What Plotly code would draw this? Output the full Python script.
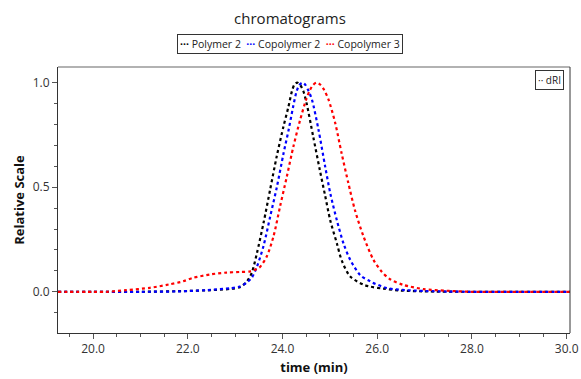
import plotly.graph_objects as go

# ---- data ----
t_polymer2 = [19.26, 20.0, 21.0, 22.0, 22.5, 22.9, 23.1, 23.25, 23.35, 23.46, 23.60, 23.74, 23.88,
              24.02, 24.12, 24.20, 24.25, 24.31, 24.37, 24.44, 24.51, 24.65, 24.79, 24.90, 25.01,
              25.15, 25.25, 25.43, 25.71, 25.85, 26.13, 26.5, 27.0, 28.0, 29.0, 30.07]
v_polymer2 = [0, 0, 0, 0.004, 0.008, 0.014, 0.022, 0.05, 0.09, 0.185, 0.33, 0.49, 0.65,
              0.79, 0.88, 0.96, 0.99, 1.0, 0.99, 0.96, 0.90, 0.74, 0.58, 0.46, 0.34,
              0.23, 0.15, 0.073, 0.034, 0.025, 0.015, 0.006, 0.002, 0, 0, 0]

t_copolymer2 = [19.26, 20.0, 21.0, 21.8, 22.4, 22.9, 23.1, 23.25, 23.35, 23.46, 23.60, 23.74, 23.88,
                24.02, 24.13, 24.22, 24.30, 24.36, 24.42, 24.48, 24.55, 24.62, 24.76, 24.90, 25.01,
                25.15, 25.29, 25.43, 25.64, 25.85, 26.2, 26.6, 27.0, 27.5, 28.0, 29.0, 30.07]
v_copolymer2 = [0, 0, 0, 0.002, 0.008, 0.017, 0.025, 0.045, 0.067, 0.12, 0.22, 0.36, 0.50,
                0.66, 0.775, 0.88, 0.96, 0.99, 1.0, 0.99, 0.96, 0.92, 0.775, 0.60, 0.47,
                0.34, 0.23, 0.153, 0.08, 0.05, 0.018, 0.008, 0.004, 0.001, 0, 0, 0]

t_copolymer3 = [19.26, 20.0, 20.3, 20.7, 21.2, 21.6, 21.9, 22.1, 22.47, 22.82, 23.1, 23.32, 23.46,
                23.53, 23.67, 23.81, 23.95, 24.09, 24.23, 24.37, 24.50, 24.58, 24.65, 24.72, 24.80,
                24.88, 24.97, 25.11, 25.25, 25.39, 25.53, 25.71, 25.92, 26.1, 26.27, 26.55, 26.98,
                27.47, 28.0, 29.0, 30.07]
v_copolymer3 = [0, 0, 0, 0.008, 0.019, 0.035, 0.05, 0.066, 0.083, 0.092, 0.095, 0.098, 0.11,
                0.12, 0.17, 0.265, 0.41, 0.55, 0.695, 0.82, 0.92, 0.965, 0.99, 1.0, 0.99,
                0.965, 0.92, 0.81, 0.66, 0.52, 0.39, 0.265, 0.153, 0.095, 0.06, 0.033, 0.013,
                0.005, 0, 0, 0]

series_names = ["Polymer 2", "Copolymer 2", "Copolymer 3"]
series_colors = ["#000000", "#0000ff", "#ff0000"]
x_tick_vals = [20, 22, 24, 26, 28, 30]
x_tick_text = ["20.0", "22.0", "24.0", "26.0", "28.0", "30.0"]
y_tick_vals = [0.0, 0.5, 1.0]
y_tick_text = ["0.0", "0.5", "1.0"]

FONT = "Open Sans"
W, H = 581, 379

fig = go.Figure()
for name, color, tx, vy in zip(series_names, series_colors,
                               [t_polymer2, t_copolymer2, t_copolymer3],
                               [v_polymer2, v_copolymer2, v_copolymer3]):
    fig.add_trace(go.Scatter(
        x=tx, y=vy, name=name, mode="lines", showlegend=False,
        line=dict(color=color, width=2.2, dash="dot", shape="spline", smoothing=0.8),
    ))

fig.update_layout(
    width=W, height=H,
    margin=dict(l=58, r=11, t=67, b=46, autoexpand=False),
    paper_bgcolor="white", plot_bgcolor="white",
    font=dict(family=FONT, color="#222222", size=11),
    title=dict(text="chromatograms", x=290 / W, xref="container", xanchor="center",
               y=1 - 19 / H, yref="container", yanchor="middle",
               font=dict(size=15, family=FONT, color="#222222")),
    showlegend=False,
    xaxis=dict(range=[19.26, 30.07], tickvals=x_tick_vals, ticktext=x_tick_text,
               ticks="outside", ticklen=5, tickcolor="#555555", showgrid=False, zeroline=False,
               showline=True, linecolor="#333333", linewidth=1,
               minor=dict(dtick=0.5, tick0=0, ticks="outside", ticklen=3, tickcolor="#555555"),
               tickfont=dict(size=12, color="#333333"),
               title=dict(text="<b>time (min)</b>", font=dict(size=13, color="#111111"), standoff=6)),
    yaxis=dict(range=[-0.197, 1.075], tickvals=y_tick_vals, ticktext=y_tick_text,
               ticks="outside", ticklen=5, tickcolor="#555555", showgrid=False, zeroline=False,
               showline=True, linecolor="#333333", linewidth=1,
               minor=dict(dtick=0.1, tick0=0, ticks="outside", ticklen=3, tickcolor="#555555"),
               tickfont=dict(size=12, color="#333333"),
               title=dict(text="<b>Relative Scale</b>", font=dict(size=13, color="#111111"), standoff=5)),
)

# top (gray) and right (dark) frame lines
fig.add_shape(type="line", xref="paper", yref="paper", x0=0, x1=1, y0=1, y1=1,
              line=dict(color="#999999", width=1.5))
fig.add_shape(type="line", xref="paper", yref="paper", x0=1, x1=1, y0=0, y1=1,
              line=dict(color="#333333", width=1))

# legend built as a boxed text annotation
legend_parts = []
for name, color in zip(series_names, series_colors):
    legend_parts.append(f"<span style='color:{color}'><b>···</b></span> {name}")
fig.add_annotation(text="  ".join(legend_parts), xref="paper", yref="paper",
                   x=(290 - 58) / 512, y=1 + (67 - 44) / 266,
                   xanchor="center", yanchor="middle", showarrow=False,
                   font=dict(size=10.5, family=FONT, color="#222222"),
                   bordercolor="#333333", borderwidth=1, borderpad=2, bgcolor="white")

# dRI box
fig.add_annotation(text="·· dRI", xref="paper", yref="paper", x=0.988, y=0.988,
                   xanchor="right", yanchor="top", showarrow=False,
                   font=dict(size=10, family=FONT, color="#222222"),
                   bordercolor="#333333", borderwidth=1, borderpad=2, bgcolor="white")

fig.write_html("out.html", config={"displayModeBar": False},
               post_script="document.body.style.margin='0px';document.body.style.overflow='hidden';")
